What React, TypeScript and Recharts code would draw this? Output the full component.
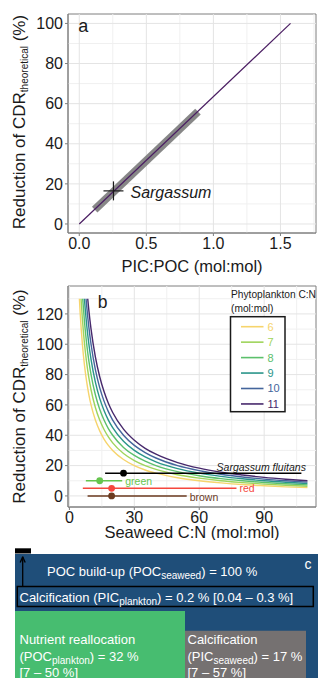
import React from 'react';
import {
  ComposedChart,
  Line,
  Scatter,
  XAxis,
  YAxis,
  ReferenceLine,
  ReferenceArea,
  ReferenceDot,
  Legend,
} from 'recharts';

const FONT = "'Liberation Sans', Arial, Helvetica, sans-serif";

// ---------- Panel a data ----------
const aXTicks = [0, 0.5, 1.0, 1.5];
const aXMinor = [0.25, 0.75, 1.25, 1.75];
const aYTicks = [0, 20, 40, 60, 80, 100];
const aYMinor = [10, 30, 50, 70, 90];
const aLinePoints = [
  { x: 0, y: 0 },
  { x: 1.575, y: 100 },
];
const aRangePoints = [
  { x: 0.115, y: 7.2 },
  { x: 0.885, y: 56 },
];
const aSargassum = [{ x: 0.255, y: 16.5, label: 'Sargassum' }];

// ---------- Panel b data ----------
const bXTicks = [0, 30, 60, 90];
const bXMinor = [15, 45, 75, 105];
const bYTicks = [0, 20, 40, 60, 80, 100, 120];
const bYMinor = [10, 30, 50, 70, 90, 110, 130];

const seaweedCN = [5, 6, 7, 8, 9, 10, 12, 14, 16, 18, 20, 25, 30, 35, 40, 50, 60, 70, 80, 90, 100, 110];
const phytoCN = [6, 7, 8, 9, 10, 11];
const phytoColors = ['#F6D46C', '#9FD45B', '#5CC06C', '#2A958A', '#44659C', '#47296C'];
const curveStart = [4.62, 5.38, 6.15, 6.92, 7.69, 8.46];
const curveTop = 130;
const reduction6 = [120, 100, 85.7, 75, 66.7, 60, 50, 42.9, 37.5, 33.3, 30, 24, 20, 17.1, 15, 12, 10, 8.6, 7.5, 6.7, 6, 5.5];
const reduction7 = [null, 116.7, 100, 87.5, 77.8, 70, 58.3, 50, 43.8, 38.9, 35, 28, 23.3, 20, 17.5, 14, 11.7, 10, 8.8, 7.8, 7, 6.4];
const reduction8 = [null, null, 114.3, 100, 88.9, 80, 66.7, 57.1, 50, 44.4, 40, 32, 26.7, 22.9, 20, 16, 13.3, 11.4, 10, 8.9, 8, 7.3];
const reduction9 = [null, null, null, 112.5, 100, 90, 75, 64.3, 56.3, 50, 45, 36, 30, 25.7, 22.5, 18, 15, 12.9, 11.3, 10, 9, 8.2];
const reduction10 = [null, null, null, 125, 111.1, 100, 83.3, 71.4, 62.5, 55.6, 50, 40, 33.3, 28.6, 25, 20, 16.7, 14.3, 12.5, 11.1, 10, 9.1];
const reduction11 = [null, null, null, null, 122.2, 110, 91.7, 78.6, 68.8, 61.1, 55, 44, 36.7, 31.4, 27.5, 22, 18.3, 15.7, 13.8, 12.2, 11, 10];
const reductions = [reduction6, reduction7, reduction8, reduction9, reduction10, reduction11];

const groupNames = ['Sargassum fluitans', 'green', 'red', 'brown'];
const groupMean = [25, 14, 19.5, 19.5];
const groupLow = [16.5, 7.6, 6.2, 8.4];
const groupHigh = [107.2, 24.4, 77.2, 54.2];
const groupY = [15, 10, 5, 0];
const groupColors = ['#000000', '#66C54E', '#F5473D', '#6B3A1F'];

// ---------- Panel c data ----------
const pocSeaweed = 100;
const picPlankton = [0.2, 0.04, 0.3];
const pocPlankton = [32, 7, 50];
const picSeaweed = [17, 7, 57];

// ---------- helpers ----------
const tickStyle = { fill: '#1a1a1a', fontSize: 16, fontFamily: FONT };

const buildCurve = (i: number) => {
  const pts: { x: number; y: number }[] = [{ x: curveStart[i], y: curveTop }];
  seaweedCN.forEach((x, j) => {
    const v = reductions[i][j];
    if (v !== null && v !== undefined) pts.push({ x, y: v as number });
  });
  return pts;
};

const gridLines = (
  id: string,
  xMajor: number[],
  xMinor: number[],
  yMajor: number[],
  yMinor: number[]
) => [
  ...xMinor.map((v) => (
    <ReferenceLine key={`${id}xm${v}`} x={v} stroke="#f0f0f0" strokeWidth={1} />
  )),
  ...yMinor.map((v) => (
    <ReferenceLine key={`${id}ym${v}`} y={v} stroke="#f0f0f0" strokeWidth={1} />
  )),
  ...xMajor.map((v) => (
    <ReferenceLine key={`${id}xM${v}`} x={v} stroke="#e4e4e4" strokeWidth={1} />
  )),
  ...yMajor.map((v) => (
    <ReferenceLine key={`${id}yM${v}`} y={v} stroke="#e4e4e4" strokeWidth={1} />
  )),
];

const textLabel =
  (
    text: string,
    color: string,
    anchor: 'start' | 'end' | 'middle',
    dx: number,
    dy: number,
    size: number,
    italic = false
  ) =>
  (props: any) => {
    const vb = props.viewBox || { x: 0, y: 0, width: 0, height: 0 };
    const cx = vb.x + (vb.width || 0) / 2;
    const cy = vb.y + (vb.height || 0) / 2;
    return (
      <text
        x={cx + dx}
        y={cy + dy}
        textAnchor={anchor}
        fontSize={size}
        fill={color}
        fontStyle={italic ? 'italic' : 'normal'}
        fontFamily={FONT}
      >
        {text}
      </text>
    );
  };

const YTitle = (cx: number, cy: number) => () =>
  (
    <text
      x={cx}
      y={cy}
      transform={`rotate(-90, ${cx}, ${cy})`}
      textAnchor="middle"
      fontSize={17}
      fill="#1a1a1a"
      fontFamily={FONT}
    >
      Reduction of CDR
      <tspan fontSize={10} dy={2.5}>
        theoretical
      </tspan>
      <tspan dy={-2.5}> (%)</tspan>
    </text>
  );

const XTitle = (cx: number, y: number, text: string) => () =>
  (
    <text x={cx} y={y} textAnchor="middle" fontSize={16.5} fill="#1a1a1a" fontFamily={FONT}>
      {text}
    </text>
  );

const CrossShape = (p: any) => (
  <g>
    <line x1={p.cx - 10} x2={p.cx + 10} y1={p.cy} y2={p.cy} stroke="#1a1a1a" strokeWidth={1.2} />
    <line x1={p.cx} x2={p.cx} y1={p.cy - 9.5} y2={p.cy + 9.5} stroke="#1a1a1a" strokeWidth={1.2} />
    <text
      x={p.cx + 17}
      y={p.cy + 7.5}
      fontStyle="italic"
      fontSize={16}
      fill="#1a1a1a"
      fontFamily={FONT}
    >
      {p.payload && p.payload.label}
    </text>
  </g>
);

const dotShape = (color: string) => (p: any) => <circle cx={p.cx} cy={p.cy} r={3.4} fill={color} />;

const SubText = (props: {
  x: number;
  y: number;
  pre: string;
  sub: string;
  post: string;
  fill?: string;
}) => (
  <text x={props.x} y={props.y} fontSize={13} fill={props.fill || '#ffffff'} fontFamily={FONT}>
    {props.pre}
    <tspan fontSize={10} dy={3}>
      {props.sub}
    </tspan>
    <tspan dy={-3}>{props.post}</tspan>
  </text>
);

const PlainText = (props: { x: number; y: number; text: string; size?: number }) => (
  <text x={props.x} y={props.y} fontSize={props.size || 13} fill="#ffffff" fontFamily={FONT}>
    {props.text}
  </text>
);

const LegendBox = () => (
  <svg width={318} height={260} style={{ position: 'absolute', left: 0, top: 0, overflow: 'visible' }}>
    <text x={231} y={17.5} fontSize={10.2} fill="#1a1a1a" fontFamily={FONT}>
      Phytoplankton C:N
    </text>
    <text x={231} y={31.5} fontSize={10.2} fill="#1a1a1a" fontFamily={FONT}>
      (mol:mol)
    </text>
    <rect x={230.5} y={36.7} width={54.5} height={95} fill="#ffffff" stroke="#1a1a1a" strokeWidth={1.5} />
    {phytoCN.map((n, i) => {
      const cy = 46.7 + i * 15.45;
      return (
        <g key={n}>
          <line x1={241} x2={263.5} y1={cy} y2={cy} stroke={phytoColors[i]} strokeWidth={1.6} />
          <text x={267.5} y={cy + 3.9} fontSize={11} fill={phytoColors[i]} fontFamily={FONT}>
            {n}
          </text>
        </g>
      );
    })}
  </svg>
);

export default function App() {
  return (
    <div
      style={{
        position: 'absolute',
        left: 0,
        top: 0,
        width: 318,
        height: 678,
        background: '#ffffff',
        overflow: 'hidden',
        fontFamily: FONT,
      }}
    >
      {/* Panel a */}
      <div style={{ position: 'absolute', left: 0, top: 0 }}>
        <ComposedChart width={318} height={280} margin={{ top: 14, right: 2, bottom: 0, left: 0 }}>
          <XAxis
            type="number"
            dataKey="x"
            domain={[-0.084, 1.765]}
            allowDataOverflow
            ticks={aXTicks}
            interval={0}
            tickFormatter={(v: number) => v.toFixed(1)}
            tickSize={3}
            tickMargin={2}
            height={47}
            stroke="#7f7f7f"
            tick={tickStyle}
            label={XTitle(192, 272, 'PIC:POC (mol:mol)')}
          />
          <YAxis
            type="number"
            dataKey="y"
            domain={[-4.5, 104.7]}
            allowDataOverflow
            ticks={aYTicks}
            interval={0}
            tickSize={3}
            tickMargin={2}
            width={68}
            stroke="#7f7f7f"
            tick={tickStyle}
            label={YTitle(25, 122)}
          />
          {gridLines('a', aXTicks, aXMinor, aYTicks, aYMinor)}
          <ReferenceArea x1={-0.084} x2={1.765} y1={-4.5} y2={104.7} fill="none" stroke="#7f7f7f" strokeWidth={1} />
          <Line
            data={aRangePoints}
            dataKey="y"
            stroke="#7a7a7a"
            strokeOpacity={0.9}
            strokeWidth={8}
            strokeLinecap="butt"
            dot={false}
            isAnimationActive={false}
          />
          <Line data={aLinePoints} dataKey="y" stroke="#4a1d62" strokeWidth={1.2} dot={false} isAnimationActive={false} />
          <Scatter data={aSargassum} dataKey="y" shape={CrossShape} isAnimationActive={false} />
          <ReferenceDot x={0} y={95.6} r={0} fill="none" stroke="none" label={textLabel('a', '#1a1a1a', 'start', -1, 0, 18)} />
        </ComposedChart>
      </div>

      {/* Panel b */}
      <div style={{ position: 'absolute', left: 0, top: 280 }}>
        <ComposedChart width={318} height={260} margin={{ top: 6, right: 2, bottom: 0, left: 0 }}>
          <XAxis
            type="number"
            dataKey="x"
            domain={[-0.65, 113.95]}
            allowDataOverflow
            ticks={bXTicks}
            interval={0}
            tickSize={3}
            tickMargin={2}
            height={33}
            stroke="#7f7f7f"
            tick={tickStyle}
            label={XTitle(192, 257.5, 'Seaweed C:N (mol:mol)')}
          />
          <YAxis
            type="number"
            dataKey="y"
            domain={[-7.3, 138.4]}
            allowDataOverflow
            ticks={bYTicks}
            interval={0}
            tickSize={3}
            tickMargin={2}
            width={68}
            stroke="#7f7f7f"
            tick={tickStyle}
            label={YTitle(25, 116.5)}
          />
          {gridLines('b', bXTicks, bXMinor, bYTicks, bYMinor)}
          <ReferenceArea x1={-0.65} x2={113.95} y1={-7.3} y2={138.4} fill="none" stroke="#7f7f7f" strokeWidth={1} />
          {phytoCN.map((n, i) => (
            <Line
              key={`curve${n}`}
              data={buildCurve(i)}
              dataKey="y"
              type="monotone"
              stroke={phytoColors[i]}
              strokeWidth={1.4}
              dot={false}
              isAnimationActive={false}
            />
          ))}
          {groupNames.map((g, i) => (
            <Line
              key={`bar${g}`}
              data={[
                { x: groupLow[i], y: groupY[i] },
                { x: groupHigh[i], y: groupY[i] },
              ]}
              dataKey="y"
              stroke={groupColors[i]}
              strokeWidth={1.5}
              dot={false}
              isAnimationActive={false}
            />
          ))}
          {groupNames.map((g, i) => (
            <Scatter
              key={`pt${g}`}
              data={[{ x: groupMean[i], y: groupY[i] }]}
              dataKey="y"
              shape={dotShape(groupColors[i])}
              isAnimationActive={false}
            />
          ))}
          <ReferenceDot
            x={groupHigh[0]}
            y={groupY[0]}
            r={0}
            fill="none"
            stroke="none"
            label={textLabel(groupNames[0], '#1a1a1a', 'end', 4.5, -2.5, 10.5, true)}
          />
          {groupNames.slice(1).map((g, k) => (
            <ReferenceDot
              key={`lab${g}`}
              x={groupHigh[k + 1]}
              y={groupY[k + 1]}
              r={0}
              fill="none"
              stroke="none"
              label={textLabel(g, groupColors[k + 1], 'start', 3, k === 2 ? 4.8 : 3.8, 10.5)}
            />
          ))}
          <ReferenceDot x={13.8} y={124.1} r={0} fill="none" stroke="none" label={textLabel('b', '#1a1a1a', 'start', -1.5, 0, 17.5)} />
          <Legend layout="vertical" align="center" verticalAlign="middle" wrapperStyle={{ left: 0, top: 0, width: 318, height: 0 }} content={() => <LegendBox />} />
        </ComposedChart>
      </div>

      {/* Panel c */}
      <div style={{ position: 'absolute', left: 0, top: 540 }}>
        <ComposedChart width={318} height={138} margin={{ top: 0, right: 0, bottom: 0, left: 0 }}>
          <XAxis type="number" dataKey="x" domain={[0, 318]} allowDataOverflow hide />
          <YAxis type="number" dataKey="y" domain={[0, 138]} allowDataOverflow reversed hide />
          <ReferenceArea x1={15} x2={31} y1={8.3} y2={13.5} fill="#000000" fillOpacity={1} stroke="none" />
          <ReferenceArea
            x1={15}
            x2={318}
            y1={14}
            y2={138}
            fill="#1F4E79"
            fillOpacity={1}
            stroke="none"
            label={(p: any) => (
              <g>
                <SubText x={47} y={36} pre="POC build-up (POC" sub="seaweed" post={`) = ${pocSeaweed} %`} />
                <PlainText x={304.5} y={28.5} text="c" size={14} />
              </g>
            )}
          />
          <ReferenceArea
            x1={17.3}
            x2={313.3}
            y1={46.5}
            y2={66.5}
            fill="none"
            stroke="#000000"
            strokeWidth={1.5}
            label={(p: any) => (
              <SubText
                x={19.5}
                y={61.7}
                pre="Calcification (PIC"
                sub="plankton"
                post={`) = ${picPlankton[0]} % [${picPlankton[1]} – ${picPlankton[2]} %]`}
              />
            )}
          />
          <ReferenceLine segment={[{ x: 22.7, y: 46.5 }, { x: 22.7, y: 16.8 }]} stroke="#000000" strokeWidth={1.3} />
          <ReferenceLine segment={[{ x: 20.2, y: 22.5 }, { x: 22.7, y: 16.8 }]} stroke="#000000" strokeWidth={1.3} />
          <ReferenceLine segment={[{ x: 25.2, y: 22.5 }, { x: 22.7, y: 16.8 }]} stroke="#000000" strokeWidth={1.3} />
          <ReferenceArea
            x1={15}
            x2={185}
            y1={71}
            y2={138}
            fill="#47BD70"
            fillOpacity={1}
            stroke="none"
            label={(p: any) => (
              <g>
                <PlainText x={19.5} y={104} text="Nutrient reallocation" />
                <SubText x={19.5} y={120.5} pre="(POC" sub="plankton" post={`) = ${pocPlankton[0]} %`} />
                <PlainText x={19.5} y={136.8} text={`[${pocPlankton[1]} – ${pocPlankton[2]} %]`} />
              </g>
            )}
          />
          <ReferenceArea
            x1={185}
            x2={306}
            y1={90.7}
            y2={138}
            fill="#757171"
            fillOpacity={1}
            stroke="none"
            label={(p: any) => (
              <g>
                <PlainText x={187.5} y={104} text="Calcification" />
                <SubText x={187.5} y={120.5} pre="(PIC" sub="seaweed" post={`) = ${picSeaweed[0]} %`} />
                <PlainText x={187.5} y={136.8} text={`[${picSeaweed[1]} – ${picSeaweed[2]} %]`} />
              </g>
            )}
          />
        </ComposedChart>
      </div>
    </div>
  );
}
